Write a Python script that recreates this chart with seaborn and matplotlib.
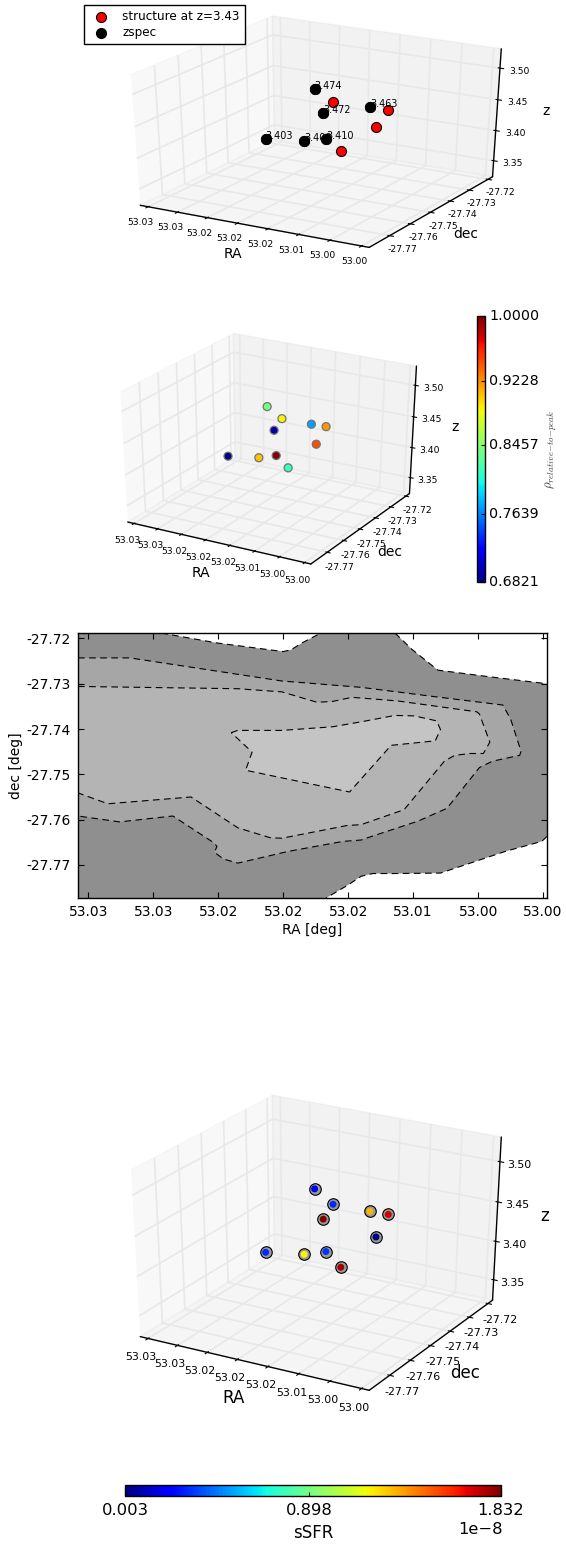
import matplotlib
matplotlib.use('Agg')
import matplotlib.pyplot as plt
import seaborn as sns
from matplotlib.cm import ScalarMappable
from matplotlib.colors import Normalize

# galaxies of the structure
ra = [53.0203, 53.0180, 53.0135, 53.0108, 53.0115, 53.0117, 53.0250, 53.0192, 53.0166, 53.0140]
dec = [-27.7429, -27.7408, -27.7584, -27.7444, -27.7332, -27.7385, -27.7527, -27.7510, -27.7482, -27.7486]
zspec = [3.474, 3.455, 3.472, 3.463, 3.44, 3.42, 3.403, 3.407, 3.410, 3.395]
rho = [0.838, 0.889, 0.693, 0.772, 0.920, 0.945, 0.6821, 0.905, 1.0, 0.815]
ssfr = [0.22e-8, 0.31e-8, 1.832e-8, 1.32e-8, 1.70e-8, 0.003e-8, 0.31e-8, 1.19e-8, 0.33e-8, 1.77e-8]

# the ones with a spectroscopic redshift (indices into the lists above)
spec_idx = [0, 2, 3, 6, 7, 8]
spec_labels = ['3.474', '3.472', '3.463', '3.403', '3.408', '3.410']

ra_ticks = [53.035, 53.030, 53.025, 53.020, 53.015, 53.010, 53.005, 53.000]
ra_labels = ['53.03', '53.03', '53.02', '53.02', '53.02', '53.01', '53.00', '53.00']
dec_ticks = [-27.77, -27.76, -27.75, -27.74, -27.73, -27.72]
dec_labels = ['-27.77', '-27.76', '-27.75', '-27.74', '-27.73', '-27.72']
z_ticks = [3.35, 3.40, 3.45, 3.50]
z_labels = ['3.35', '3.40', '3.45', '3.50']

rho_ticks = [0.6821, 0.7639, 0.8457, 0.9228, 1.0]
rho_labels = ['0.6821', '0.7639', '0.8457', '0.9228', '1.0000']
ssfr_ticks = [0.003e-8, 0.898e-8, 1.832e-8]
ssfr_labels = ['0.003', '0.898', '1.832']

# density contours of the RA/dec map
l1_ra = [53.0358, 53.0294, 53.0251, 53.0200, 53.0194, 53.0185, 53.0171, 53.0114, 53.0101, 53.0081, 53.0043,
         52.9997, 52.9997, 53.0001, 53.0029, 53.0079, 53.0115, 53.0131, 53.0140, 53.0150, 53.0167, 53.0358]
l1_dec = [-27.7188, -27.7188, -27.7210, -27.7229, -27.7225, -27.7209, -27.7188, -27.7188, -27.7224, -27.7270,
          -27.7284, -27.7300, -27.7637, -27.7648, -27.7670, -27.7718, -27.7719, -27.7719, -27.7725, -27.7744,
          -27.7773, -27.7773]
l2_ra = [53.0358, 53.0318, 53.0279, 53.0201, 53.0140, 53.0085, 53.0031, 53.0025, 53.0017, 53.0018, 53.0039,
         53.0049, 53.0074, 53.0096, 53.0132, 53.0140, 53.0154, 53.0196, 53.0226, 53.0235, 53.0246, 53.0253,
         53.0251, 53.0254, 53.0285, 53.0326, 53.0358]
l2_dec = [-27.7243, -27.7243, -27.7260, -27.7294, -27.7308, -27.7328, -27.7347, -27.7378, -27.7449, -27.7458,
          -27.7471, -27.7485, -27.7575, -27.7603, -27.7637, -27.7645, -27.7648, -27.7670, -27.7690, -27.7696,
          -27.7687, -27.7672, -27.7659, -27.7650, -27.7592, -27.7605, -27.7592]
l3_ra = [53.0358, 53.0235, 53.0201, 53.0174, 53.0162, 53.0147, 53.0112, 53.0051, 53.0049, 53.0041, 53.0046,
         53.0056, 53.0068, 53.0076, 53.0107, 53.0140, 53.0151, 53.0201, 53.0210, 53.0235, 53.0271, 53.0335, 53.0358]
l3_dec = [-27.7306, -27.7311, -27.7318, -27.7341, -27.7339, -27.7330, -27.7338, -27.7362, -27.7367, -27.7429,
          -27.7454, -27.7454, -27.7458, -27.7471, -27.7578, -27.7611, -27.7613, -27.7641, -27.7640, -27.7618,
          -27.7550, -27.7565, -27.7541]
l4_ra = [53.0240, 53.0235, 53.0201, 53.0162, 53.0140, 53.0114, 53.0099, 53.0082, 53.0079, 53.0083, 53.0110,
         53.0117, 53.0149, 53.0229, 53.0224, 53.0240]
l4_dec = [-27.7408, -27.7403, -27.7403, -27.7395, -27.7384, -27.7370, -27.7371, -27.7382, -27.7401, -27.7426,
          -27.7434, -27.7436, -27.7539, -27.7491, -27.7451, -27.7408]

sns.set_theme(style='ticks', color_codes=False, rc={
    'axes.edgecolor': '#000000', 'axes.labelcolor': '#000000', 'text.color': '#000000',
    'xtick.color': '#000000', 'ytick.color': '#000000',
    'axes.linewidth': 1.0, 'xtick.major.width': 0.8, 'ytick.major.width': 0.8, 'axes.axisbelow': False,
    'grid.color': '#e8e8e8', 'grid.linewidth': 1.2, 'mathtext.fontset': 'cm',
})
plt.rcParams['font.family'] = ['DejaVu Sans']
jet = matplotlib.colormaps['jet']

W, H = 566, 1544
fig = plt.figure(figsize=(W / 100, H / 100), dpi=100)


def box(left, top, width, height):
    return [left / W, 1 - (top + height) / H, width / W, height / H]


def axes3d(left, top, width, height, tick_size=6.7, tick_pad=0, label_size=10, label_pads=(-1.1, -0.4, -0.6)):
    ax = fig.add_axes(box(left, top, width, height), projection='3d')
    pos = ax.get_position(original=True)
    # keep the rectangle, old mplot3d stretched the cube to fill it
    ax.apply_aspect = lambda position=None: ax._set_position(pos, 'active')
    ax.set_box_aspect((1, 1, 1), zoom=0.9088)
    ax.patch.set_alpha(0)
    ax.computed_zorder = False
    ax.view_init(elev=30, azim=-60)
    ax.set_xlim(53.03635, 52.9988)
    ax.set_ylim(-27.7797, -27.7175)
    ax.set_zlim(3.323, 3.53)
    ax.set_xticks(ra_ticks)
    ax.set_xticklabels(ra_labels)
    ax.set_yticks(dec_ticks)
    ax.set_yticklabels(dec_labels)
    ax.set_zticks(z_ticks)
    ax.set_zticklabels(z_labels)
    ax.tick_params(labelsize=tick_size, pad=tick_pad)
    ax.set_xlabel('RA', fontsize=label_size, labelpad=label_pads[0])
    ax.set_ylabel('dec', fontsize=label_size, labelpad=label_pads[1])
    ax.set_zlabel('z', fontsize=label_size, labelpad=label_pads[2])
    for axis in (ax.xaxis, ax.yaxis, ax.zaxis):
        axis.offsetText.set_visible(False)
    return ax


# panel 1: positions with the spectroscopic redshifts on top
ax1 = axes3d(68, -6.5, 489, 276)
ax1.scatter(ra, dec, zspec, s=52, c='#ff0000', edgecolors='#000000', linewidths=0.8, depthshade=False, zorder=2,
            label='structure at z=3.43')
for n, (i, lab) in enumerate(zip(spec_idx, spec_labels)):
    ax1.scatter(ra[i], dec[i], zspec[i], s=52, c='#000000', edgecolors='#000000', linewidths=0.8, depthshade=False,
                zorder=3 + n, label='zspec' if n == 0 else None)
    ax1.text(ra[i], dec[i], zspec[i], lab, fontsize=6.9, zorder=3.5 + n)
ax1.legend(loc='upper left', bbox_to_anchor=(84 / W, 1 - 5 / H), bbox_transform=fig.transFigure, borderaxespad=0,
           scatterpoints=1, fontsize=8.65, labelspacing=0.3, fancybox=False, edgecolor='#000000', framealpha=1,
           frameon=True)
ax1.get_legend().get_frame().set_linewidth(1.0)

# panel 2: coloured by relative density
ax2 = axes3d(70, 311, 391, 275, label_pads=(-2.1, -2.1, -2.0))
ax2.scatter(ra, dec, zspec, s=33, c=rho, cmap=jet, vmin=0.6821, vmax=1.0, edgecolors='0.45', linewidths=0.9,
            depthshade=False)
cax2 = fig.add_axes(box(477, 316, 8, 266))
cb2 = fig.colorbar(ScalarMappable(Normalize(0.6821, 1.0), jet), cax=cax2)
cb2.set_ticks(rho_ticks)
cb2.set_ticklabels(rho_labels)
cb2.ax.tick_params(labelsize=10.3, direction='in', length=3, pad=3)
for lab in cb2.ax.get_yticklabels():
    lab.set_va('center')
cb2.outline.set_linewidth(1.0)
cb2.set_label(r'$\rho_{relative{-}to{-}peak}$', fontsize=9.3, labelpad=3, color='0.25')

# panel 3: RA/dec map
ax3 = fig.add_axes(box(78, 633, 469, 265))
ax3.set_facecolor('w')
ax3.fill(l1_ra, l1_dec, color='#8f8f8f', lw=0)
ax3.fill(l2_ra, l2_dec, color='#a6a6a6', lw=0)
ax3.fill(l3_ra, l3_dec, color='#b4b4b4', lw=0)
ax3.fill(l4_ra, l4_dec, color='#c4c4c4', lw=0)
segments = [(l1_ra[1:7], l1_dec[1:7]), (l1_ra[7:12], l1_dec[7:12]), (l1_ra[12:21], l1_dec[12:21]),
            (l2_ra, l2_dec), (l3_ra, l3_dec), (l4_ra, l4_dec)]
for seg_ra, seg_dec in segments:
    sns.lineplot(x=seg_ra, y=seg_dec, sort=False, estimator=None, color='#000000', linewidth=0.8,
                 linestyle=(0, (6, 4)), ax=ax3)
ax3.set_xlim(53.0358, 52.9997)
ax3.set_ylim(-27.7773, -27.7188)
ax3.set_xticks(ra_ticks)
ax3.set_xticklabels(ra_labels)
ax3.set_yticks(dec_ticks)
ax3.set_yticklabels(dec_labels)
ax3.tick_params(labelsize=10, direction='in', top=True, right=True, length=4, pad=5)
ax3.set_xlabel('RA [deg]', fontsize=10, labelpad=3)
ax3.set_ylabel('dec [deg]', fontsize=10, labelpad=3)

# panel 4: coloured by sSFR
ax4 = axes3d(68, 1066.5, 489, 352, tick_size=7.9, tick_pad=0.5, label_size=12, label_pads=(0.6, 1.2, 0.6))
ax4.scatter(ra, dec, zspec, s=69, c='0.6', edgecolors='#000000', linewidths=0.8, depthshade=False, zorder=2)
ax4.scatter(ra, dec, zspec, s=25, c=ssfr, cmap=jet, vmin=0.003e-8, vmax=1.832e-8, linewidths=0, depthshade=False,
            zorder=3)
cax4 = fig.add_axes(box(125, 1485, 376, 11))
cb4 = fig.colorbar(ScalarMappable(Normalize(0.003e-8, 1.832e-8), jet), cax=cax4, orientation='horizontal')
cb4.set_ticks(ssfr_ticks)
cb4.set_ticklabels(ssfr_labels)
cb4.ax.tick_params(labelsize=11.8, direction='in', length=3, pad=5)
cb4.outline.set_linewidth(1.0)
cb4.set_label('sSFR', fontsize=12, labelpad=4)
fig.text(480 / W, 1 - 1529 / H, '1e\u22128', fontsize=11.8, ha='center', va='center')

fig.savefig('out.png', dpi=100)
